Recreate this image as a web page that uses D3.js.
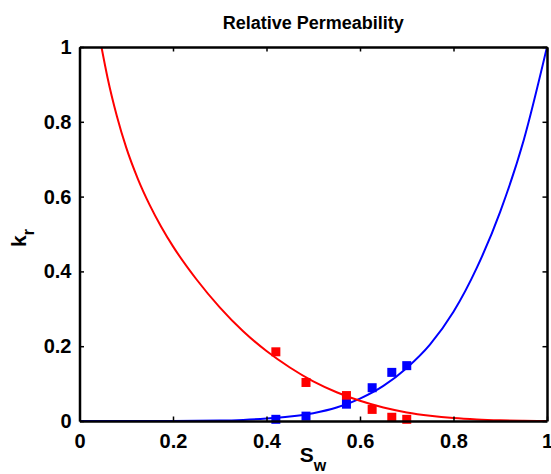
<!DOCTYPE html>
<html>
<head>
<meta charset="utf-8">
<script src="https://cdn.jsdelivr.net/npm/d3@7"></script>
<style>
  body { margin: 0; background: #fff; }
  text { font-family: "Liberation Sans", Arial, Helvetica, sans-serif; font-weight: bold; }
</style>
</head>
<body>
<div id="chart"></div>
<script>
// fitted curves (water saturation vs relative permeability)
const redSw = [0.047, 0.06, 0.08, 0.10, 0.125, 0.15, 0.175, 0.2, 0.25, 0.3, 0.35, 0.4, 0.45, 0.5, 0.55, 0.6, 0.65, 0.7, 0.75, 0.8, 0.85, 0.9, 0.95, 1.0];
const redKr = [1.0, 0.918, 0.815, 0.731, 0.647, 0.578, 0.519, 0.467, 0.379, 0.304, 0.240, 0.187, 0.143, 0.106, 0.077, 0.054, 0.036, 0.023, 0.014, 0.0078, 0.004, 0.0017, 0.0004, 0];

const blueSw = [0, 0.1, 0.2, 0.3, 0.35, 0.4, 0.45, 0.5, 0.55, 0.6, 0.65, 0.7, 0.75, 0.8, 0.85, 0.9, 0.95, 1.0];
const blueKr = [0, 0, 0.0002, 0.0012, 0.003, 0.0065, 0.012, 0.021, 0.036, 0.060, 0.094, 0.142, 0.205, 0.292, 0.41, 0.56, 0.75, 1.0];

// measured points
const pointSw = [0.42, 0.4845, 0.571, 0.626, 0.668, 0.70];
const redPoints = [0.185, 0.103, 0.068, 0.031, 0.010, 0.0045];
const bluePoints = [0.0045, 0.013, 0.045, 0.089, 0.130, 0.148];

const xTicks = [0, 0.2, 0.4, 0.6, 0.8, 1];
const yTicks = [0, 0.2, 0.4, 0.6, 0.8, 1];

const width = 551, height = 474;
const margin = { left: 79.5, right: 4, top: 47, bottom: 53 };

const svg = d3.select("#chart").append("svg")
    .attr("width", width)
    .attr("height", height);

const x = d3.scaleLinear().domain([0, 1]).range([margin.left, width - margin.right]);
const y = d3.scaleLinear().domain([0, 1]).range([height - margin.bottom, margin.top]);

svg.append("defs").append("clipPath")
    .attr("id", "plotClip")
    .append("rect")
    .attr("x", x(0))
    .attr("y", y(1))
    .attr("width", x(1) - x(0))
    .attr("height", y(0) - y(1));

const plot = svg.append("g").attr("clip-path", "url(#plotClip)");

const line = d3.line()
    .x(d => x(d[0]))
    .y(d => y(d[1]))
    .curve(d3.curveMonotoneX);

plot.append("path")
    .datum(blueSw.map((s, i) => [s, blueKr[i]]))
    .attr("d", line)
    .attr("fill", "none")
    .attr("stroke", "#0000ff")
    .attr("stroke-width", 2);

plot.append("path")
    .datum(redSw.map((s, i) => [s, redKr[i]]))
    .attr("d", line)
    .attr("fill", "none")
    .attr("stroke", "#ff0000")
    .attr("stroke-width", 2);

// square markers
const sq = 9;
svg.selectAll("rect.red-pt")
    .data(pointSw.map((s, i) => [s, redPoints[i]]))
    .enter()
    .append("rect")
    .attr("class", "red-pt")
    .attr("x", d => x(d[0]) - sq / 2)
    .attr("y", d => y(d[1]) - sq / 2)
    .attr("width", sq)
    .attr("height", sq)
    .attr("fill", "#ff0000");

svg.selectAll("rect.blue-pt")
    .data(pointSw.map((s, i) => [s, bluePoints[i]]))
    .enter()
    .append("rect")
    .attr("class", "blue-pt")
    .attr("x", d => x(d[0]) - sq / 2)
    .attr("y", d => y(d[1]) - sq / 2)
    .attr("width", sq)
    .attr("height", sq)
    .attr("fill", "#0000ff");

// axes, ticks inside like matlab
const tickLen = 4.5;
const fmt = d => d === 0 || d === 1 ? String(d) : d3.format(".1f")(d);

svg.append("g")
    .attr("transform", `translate(0,${y(0)})`)
    .call(d3.axisBottom(x).tickValues(xTicks).tickSizeInner(-tickLen).tickSizeOuter(0).tickPadding(13).tickFormat(fmt))
    .call(g => g.selectAll("text").attr("font-size", "20px").attr("fill", "#000").attr("font-family", null));

svg.append("g")
    .attr("transform", `translate(0,${y(1)})`)
    .call(d3.axisTop(x).tickValues(xTicks).tickSizeInner(-tickLen).tickSizeOuter(0).tickFormat(""));

svg.append("g")
    .attr("transform", `translate(${x(0)},0)`)
    .call(d3.axisLeft(y).tickValues(yTicks).tickSizeInner(-tickLen).tickSizeOuter(0).tickPadding(8).tickFormat(fmt))
    .call(g => g.selectAll("text").attr("font-size", "20px").attr("fill", "#000").attr("font-family", null));

svg.append("g")
    .attr("transform", `translate(${x(1)},0)`)
    .call(d3.axisRight(y).tickValues(yTicks).tickSizeInner(-tickLen).tickSizeOuter(0).tickFormat(""));

svg.selectAll(".domain").attr("stroke", "#000").attr("stroke-width", 2.5);
svg.selectAll(".tick line").attr("stroke", "#000").attr("stroke-width", 1.5);

// title and axis labels
svg.append("text")
    .attr("x", (x(0) + x(1)) / 2)
    .attr("y", 29)
    .attr("text-anchor", "middle")
    .attr("font-size", "18px")
    .text("Relative Permeability");

const xLabel = svg.append("text")
    .attr("x", 313)
    .attr("y", 462)
    .attr("text-anchor", "middle")
    .attr("font-size", "21px");
xLabel.append("tspan").text("S");
xLabel.append("tspan").attr("font-size", "16px").attr("dy", 9).text("w");

const yLabel = svg.append("text")
    .attr("transform", `translate(26,${(y(0) + y(1)) / 2 + 4}) rotate(-90)`)
    .attr("text-anchor", "middle")
    .attr("font-size", "21px");
yLabel.append("tspan").text("k");
yLabel.append("tspan").attr("font-size", "16px").attr("dy", 8).text("r");
</script>
</body>
</html>
